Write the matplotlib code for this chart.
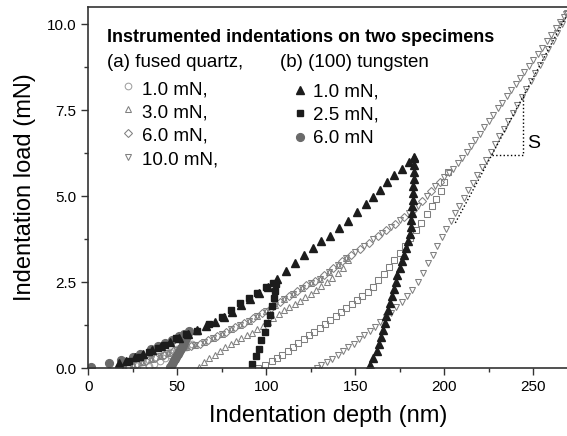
import matplotlib
matplotlib.use("Agg")
import matplotlib.pyplot as plt
from matplotlib.ticker import MultipleLocator, FormatStrFormatter

plt.rcParams["font.family"] = ["Liberation Sans", "DejaVu Sans"]

# --- silice fondue (fused quartz) ---
# courbe de charge commune (essai 10 mN)
qz10_charge_h = [20, 25, 30, 35, 40, 45, 50, 55, 60, 65, 70, 75, 80, 85, 90, 95, 100,
                 105, 110, 115, 120, 125, 130, 135, 140, 145, 150, 155, 160, 165, 170,
                 175, 180, 185, 190, 195, 200, 202.5, 205, 207.5, 210, 212.5, 215, 217.5,
                 220, 222.5, 225, 227.5, 230, 232.5, 235, 237.5, 240, 242.5, 245, 247.5,
                 250, 252.5, 255, 257.5, 260, 262.5, 265, 267.5, 269]
qz10_charge_P = [0.02, 0.08, 0.16, 0.25, 0.34, 0.44, 0.53, 0.6, 0.67, 0.76, 0.86, 0.98,
                 1.12, 1.25, 1.38, 1.52, 1.67, 1.84, 2.0, 2.16, 2.32, 2.47, 2.6, 2.8, 3.0,
                 3.2, 3.38, 3.55, 3.74, 3.92, 4.1, 4.3, 4.5, 4.72, 5.0, 5.3, 5.55, 5.68,
                 5.8, 5.95, 6.1, 6.27, 6.45, 6.63, 6.82, 7.0, 7.18, 7.37, 7.55, 7.72, 7.9,
                 8.08, 8.27, 8.43, 8.6, 8.78, 8.95, 9.12, 9.3, 9.5, 9.7, 9.88, 10.05,
                 10.22, 10.32]
# decharge 10 mN
qz10_decharge_h = [268.5, 266, 263.5, 261, 258.5, 256, 253.5, 251, 248.5, 246, 243.5,
                   241, 238.5, 236, 233.5, 231, 228.5, 226, 223.5, 221, 218.5, 216, 213.5,
                   211, 208.5, 206, 203.5, 201, 198.5, 196, 193.5, 191, 188, 185, 182,
                   179, 176, 173, 170, 167, 164, 161, 158, 155, 152, 149, 146, 143, 140,
                   137, 134, 131, 128.5]
qz10_decharge_P = [10.3, 10.0, 9.75, 9.52, 9.28, 9.05, 8.81, 8.58, 8.34, 8.11, 7.88,
                   7.64, 7.42, 7.19, 6.96, 6.74, 6.51, 6.29, 6.06, 5.84, 5.62, 5.39, 5.17,
                   4.95, 4.72, 4.5, 4.27, 4.05, 3.8, 3.55, 3.3, 3.05, 2.75, 2.5, 2.28,
                   2.1, 1.93, 1.76, 1.61, 1.47, 1.33, 1.2, 1.07, 0.95, 0.83, 0.71, 0.6,
                   0.5, 0.38, 0.27, 0.17, 0.08, 0.0]

# essai 6 mN
qz6_charge_h = [22.5, 27.5, 32.5, 37.5, 42.5, 47.5, 52.5, 57.5, 62.5, 67.5, 72.5, 77.5,
                82.5, 87.5, 92.5, 97.5, 102.5, 107.5, 112.5, 117.5, 122.5, 127.5, 132.5,
                137.5, 142.5, 147.5, 152.5, 157.5, 162.5, 167.5, 172.5, 177.5, 182.5,
                187.5, 192.5, 197.5]
qz6_charge_P = [0.05, 0.12, 0.2, 0.3, 0.39, 0.49, 0.57, 0.63, 0.71, 0.81, 0.92, 1.05,
                1.18, 1.31, 1.45, 1.6, 1.75, 1.92, 2.08, 2.24, 2.4, 2.53, 2.7, 2.9, 3.1,
                3.29, 3.47, 3.65, 3.83, 4.01, 4.2, 4.4, 4.61, 4.86, 5.15, 5.42]
qz6_decharge_h = [202, 200, 198, 195.5, 193, 190, 187, 184, 181, 178, 175, 172, 169,
                  166, 163, 160, 157, 154, 151, 148, 145, 142, 139, 136, 133, 130, 127,
                  124, 121, 118, 115, 112, 109, 106, 103, 99.5, 95.5]
qz6_decharge_P = [5.7, 5.4, 5.15, 4.92, 4.7, 4.47, 4.22, 4.0, 3.78, 3.56, 3.35, 3.14,
                  2.93, 2.73, 2.55, 2.37, 2.22, 2.1, 1.97, 1.85, 1.74, 1.62, 1.5, 1.39,
                  1.28, 1.17, 1.06, 0.95, 0.84, 0.73, 0.62, 0.5, 0.39, 0.29, 0.19, 0.09,
                  0.0]

# essai 3 mN (charge = debut de la courbe commune)
qz3_hmax = 145
qz3_decharge_h = [146, 143, 140, 137, 134, 131, 128, 125, 122, 119, 116, 113, 110, 107,
                  104, 101, 98, 95, 92, 89, 86, 83, 80, 77, 74, 71, 68, 65, 62]
qz3_decharge_P = [3.15, 2.92, 2.77, 2.63, 2.5, 2.38, 2.27, 2.16, 2.06, 1.96, 1.87, 1.78,
                  1.68, 1.58, 1.46, 1.33, 1.22, 1.12, 1.03, 0.95, 0.87, 0.79, 0.7, 0.6,
                  0.5, 0.39, 0.29, 0.17, 0.04]

# essai 1 mN
qz1_h = [22, 26, 30, 34, 38, 42, 46, 50, 54, 58, 55, 52, 49, 46, 43, 40, 37, 34, 31]
qz1_P = [0.04, 0.1, 0.16, 0.23, 0.31, 0.38, 0.47, 0.54, 0.6, 0.7, 0.61, 0.53, 0.45,
         0.37, 0.29, 0.21, 0.13, 0.06, 0.0]

# --- tungstene (100) ---
w1_h = [17, 21, 26, 31, 36, 41, 46, 51, 56, 61, 66, 71, 76, 81, 86, 91, 96, 101, 106,
        111, 116, 121, 126, 131, 136, 141, 146, 151, 156, 160, 164, 168, 172, 176, 180,
        183, 183.2, 183.1, 183.0, 182.8, 182.6, 182.4, 182.2, 182.0, 181.8, 181.5,
        181.2, 180.8, 179.7, 178.5, 177.3, 176.1, 174.9, 173.6, 172.6, 171.5, 170.5,
        169.5, 168.5, 167.5, 166.5, 165.5, 164.5, 163.5, 162, 160.2, 158.3]
w1_P = [0.14, 0.21, 0.32, 0.42, 0.53, 0.64, 0.76, 0.88, 1.0, 1.1, 1.22, 1.35, 1.48, 1.64,
        1.82, 2.0, 2.17, 2.37, 2.58, 2.83, 3.06, 3.3, 3.5, 3.7, 3.85, 4.07, 4.28, 4.53,
        4.78, 4.98, 5.17, 5.4, 5.6, 5.78, 5.98, 6.13, 6.1, 5.9, 5.7, 5.5, 5.3, 5.1, 4.9,
        4.7, 4.5, 4.3, 4.1, 3.9, 3.7, 3.5, 3.3, 3.1, 2.9, 2.7, 2.5, 2.3, 2.1, 1.9, 1.7,
        1.5, 1.3, 1.1, 0.9, 0.7, 0.5, 0.3, 0.1]

w25_h = [23, 29, 34, 39, 43, 49.5, 55, 61, 68, 75, 80, 85, 90, 95, 100, 104,
         105.5, 105, 104.3, 103, 102, 100.6, 99, 97.3, 96, 94.3, 91.8]
w25_P = [0.2, 0.33, 0.47, 0.58, 0.67, 0.88, 0.98, 1.08, 1.27, 1.49, 1.68, 1.88, 2.03,
         2.18, 2.35, 2.48, 2.45, 2.25, 2.05, 1.8, 1.55, 1.3, 1.05, 0.8, 0.55, 0.35, 0.13]

w6_h = [1.5, 11.5, 18.5, 25, 29, 35, 39, 43, 47, 51, 54, 56.5,
        56.1, 55.7, 55.2, 54.8, 54.3, 53.9, 53.4, 53.0, 52.5, 52.0, 51.5, 51.0, 50.5,
        50.0, 49.4, 48.9, 48.3, 47.7, 47.1, 46.4, 45.8]
w6_P = [0.02, 0.15, 0.22, 0.33, 0.41, 0.55, 0.64, 0.73, 0.82, 0.93, 1.0, 1.07,
        1.02, 0.97, 0.92, 0.87, 0.82, 0.77, 0.72, 0.67, 0.62, 0.57, 0.52, 0.47, 0.42,
        0.37, 0.32, 0.27, 0.22, 0.17, 0.12, 0.07, 0.03]

# raideur S : tangente au debut de la decharge
S_h = [206.2, 268.8]
S_P = [4.22, 10.26]
S_P_bas = 6.2
S_h_haut = 244.4

gris_qz = "#808080"
gris_clair = "#a0a0a0"
noir = "#1c1c1c"
gris_w = "#6a6a6a"
ms = 4.8

fig = plt.figure(figsize=(5.67, 4.36), dpi=100)
ax = fig.add_axes([88.3 / 567, 68 / 436, 480.6 / 567, 361 / 436])

ouvert = dict(linestyle="none", markersize=ms, markerfacecolor="none", markeredgewidth=0.75)

ax.plot(qz1_h, qz1_P, "o", color=gris_clair, **ouvert)
qz3_h = [h for h in qz10_charge_h if h <= qz3_hmax]
qz3_P = qz10_charge_P[:len(qz3_h)]
ax.plot(qz3_h + qz3_decharge_h, qz3_P + qz3_decharge_P, "^", color=gris_qz, **ouvert)
ax.plot(qz6_charge_h, qz6_charge_P, "D", color=gris_qz, linestyle="none",
        markersize=ms - 0.8, markerfacecolor="none", markeredgewidth=0.75)
ax.plot(qz6_decharge_h, qz6_decharge_P, "s", color=gris_qz, **ouvert)
ax.plot(qz10_charge_h + qz10_decharge_h, qz10_charge_P + qz10_decharge_P, "v",
        color=gris_qz, **ouvert)

ax.plot(w6_h, w6_P, "o", color=gris_w, linestyle="none", markersize=ms + 0.8)
ax.plot(w25_h, w25_P, "s", color=noir, linestyle="none", markersize=ms - 0.3)
ax.plot(w1_h, w1_P, "^", color=noir, linestyle="none", markersize=ms + 0.3)

# tangente et triangle S
ax.plot(S_h, S_P, ":", color="black", linewidth=1.0)
pente = (S_P[1] - S_P[0]) / (S_h[1] - S_h[0])
h_coin = S_h[0] + (S_P_bas - S_P[0]) / pente
P_coin = S_P[0] + (S_h_haut - S_h[0]) * pente
ax.plot([h_coin, S_h_haut, S_h_haut], [S_P_bas, S_P_bas, P_coin], ":", color="black",
        linewidth=1.0)
ax.text(0.913, 0.609, "S", transform=ax.transAxes, fontsize=14)

ax.set_xlim(0, 270)
ax.set_ylim(0, 10.5)
ax.xaxis.set_major_locator(MultipleLocator(50))
ax.xaxis.set_minor_locator(MultipleLocator(25))
ax.yaxis.set_major_locator(MultipleLocator(2.5))
ax.yaxis.set_minor_locator(MultipleLocator(1.25))
ax.yaxis.set_major_formatter(FormatStrFormatter("%.1f"))
ax.tick_params(which="both", direction="out", width=1.0, colors="#333333",
               labelcolor="black", labelsize=11, top=False, right=False)
ax.tick_params(which="major", length=5)
ax.tick_params(which="minor", length=3)
for s in ax.spines.values():
    s.set_color("#333333")
    s.set_linewidth(1.2)

ax.set_xlabel("Indentation depth (nm)", fontsize=17, labelpad=8)
ax.set_ylabel("Indentation load (mN)", fontsize=17, labelpad=8)

# legende faite a la main
tr = ax.transAxes
ax.text(0.038, 0.904, "Instrumented indentations on two specimens", transform=tr,
        fontsize=13, fontweight="bold", va="baseline")
ax.text(0.038, 0.835, "(a) fused quartz,", transform=tr, fontsize=13.5, va="baseline")
ax.text(0.399, 0.835, "(b) (100) tungsten", transform=tr, fontsize=13.5, va="baseline")

leg_a = [("o", gris_clair, "1.0 mN,"), ("^", gris_qz, "3.0 mN,"),
         ("D", gris_qz, "6.0 mN,"), ("v", gris_qz, "10.0 mN,")]
ya_marq = [0.781, 0.717, 0.650, 0.585]
ya_txt = [0.759, 0.694, 0.630, 0.565]
for (m, c, lab), ym, yt in zip(leg_a, ya_marq, ya_txt):
    ax.plot([0.083], [ym], m, color=c, transform=tr, clip_on=False,
            markersize=ms - (0.8 if m == "D" else 0), markerfacecolor="none",
            markeredgewidth=0.75)
    ax.text(0.111, yt, lab, transform=tr, fontsize=13.5, va="baseline")

leg_b = [("^", noir, ms + 0.3, "1.0 mN,"), ("s", noir, ms - 0.3, "2.5 mN,"),
         ("o", gris_w, ms + 0.8, "6.0 mN")]
yb_marq = [0.770, 0.706, 0.641]
yb_txt = [0.752, 0.687, 0.622]
for (m, c, taille, lab), ym, yt in zip(leg_b, yb_marq, yb_txt):
    ax.plot([0.4405], [ym], m, color=c, transform=tr, clip_on=False, markersize=taille)
    ax.text(0.468, yt, lab, transform=tr, fontsize=13.5, va="baseline")

fig.savefig("out.png", dpi=100)
